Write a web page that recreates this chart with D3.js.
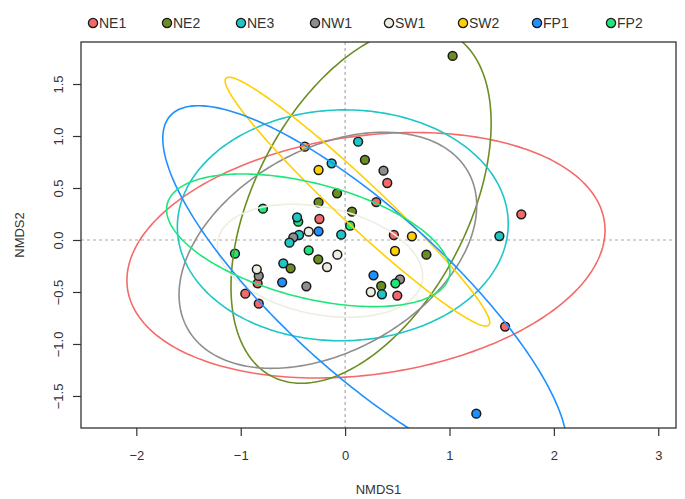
<!DOCTYPE html>
<html><head><meta charset="utf-8">
<script src="https://cdn.jsdelivr.net/npm/d3@7"></script>
<style>
html,body{margin:0;padding:0;background:#fff;}
svg{display:block;font-family:"Liberation Sans",Arial,Helvetica,sans-serif;}
</style></head>
<body>
<svg id="chart" width="685" height="499"></svg>
<script>
// ---- data ----
const groups = ["NE1","NE2","NE3","NW1","SW1","SW2","FP1","FP2"];
const groupColors = ["#F46A6A","#6B8E23","#1EC6C6","#8E8E8E","#EEEEE0","#FFD000","#1E90FF","#1FE67A"];

const pointGroup = ["NE2","NE3","SW2","NE2","NE3","NW1","SW2","NE1","NE2","NE2","NE1","NE2","FP2","NE1","FP2","NE3","NE1","FP2","SW1","FP1","NE3","NE3","NW1","NE3","NE1","SW2","NE3","FP2","FP2","SW1","SW2","NE2","NE2","SW1","NE3","NE2","NE1","NW1","SW1","FP1","NW1","NE1","NE1","FP1","NW1","FP2","NE2","SW1","NE3","NE1","NE1","FP1"];
const pointX = [1.03,0.125,-0.386,0.19,-0.129,0.368,-0.254,0.404,-0.077,-0.254,0.298,0.066,-0.787,1.688,-0.449,-0.46,-0.246,0.048,-0.349,-0.254,-0.037,-0.441,-0.496,-0.533,0.467,0.64,1.478,-1.055,-0.349,-0.074,0.478,0.779,-0.257,-0.173,-0.592,-0.522,-0.838,-0.827,-0.846,-0.603,-0.371,-0.956,-0.827,0.272,0.526,0.482,0.346,0.246,0.353,0.5,1.533,1.257];
const pointY = [1.77,0.945,0.897,0.77,0.737,0.667,0.673,0.548,0.449,0.362,0.365,0.272,0.301,0.247,0.176,0.218,0.202,0.138,0.08,0.083,0.051,0.048,0.026,-0.026,0.048,0.035,0.038,-0.131,-0.099,-0.141,-0.106,-0.141,-0.186,-0.26,-0.224,-0.272,-0.417,-0.346,-0.282,-0.407,-0.446,-0.516,-0.612,-0.34,-0.378,-0.417,-0.442,-0.5,-0.522,-0.535,-0.833,-1.67];

// ellipse parameters per group (centre, semi-axes, rotation in degrees)
const ellCx    = [0.20, 0.153, -0.022, -0.165, -0.24, 0.118, 0.19, -0.353];
const ellCy    = [-0.147, 0.336, 0.141, -0.099, -0.20, 0.369, -0.50, -0.003];
const ellA     = [2.307, 1.856, 1.585, 1.541, 0.998, 1.73, 2.52, 1.395];
const ellB     = [1.147, 1.022, 1.11, 0.973, 0.515, 0.21, 0.78, 0.55];
const ellAngle = [8, 62.6, 1, 29.3, -11.7, -43.3, -42.3, -14.6];

const xTicks = [-2,-1,0,1,2,3];
const yTicks = [-1.5,-1.0,-0.5,0.0,0.5,1.0,1.5];
const xLabel = "NMDS1", yLabel = "NMDS2";

// ---- layout ----
const svg = d3.select("#chart");
const L = 81, R = 676, T = 42, B = 428;
const x = d3.scaleLinear().domain([-2.53, 3.17]).range([L, R]);
const y = d3.scaleLinear().domain([-1.808, 1.904]).range([B, T]);
const color = d3.scaleOrdinal().domain(groups).range(groupColors);

svg.append("defs").append("clipPath").attr("id","clip")
  .append("rect").attr("x",L).attr("y",T).attr("width",R-L).attr("height",B-T);

// zero reference lines
svg.append("line").attr("x1",L).attr("x2",R).attr("y1",y(0)).attr("y2",y(0))
  .attr("stroke","#aaa").attr("stroke-width",1.2).attr("stroke-dasharray","3,3");
svg.append("line").attr("x1",x(0)).attr("x2",x(0)).attr("y1",T).attr("y2",B)
  .attr("stroke","#aaa").attr("stroke-width",1.2).attr("stroke-dasharray","3,3");

// points
svg.append("g").selectAll("circle").data(pointX.map((v,i)=>({x:v,y:pointY[i],g:pointGroup[i]})))
  .join("circle")
  .attr("cx",d=>x(d.x)).attr("cy",d=>y(d.y)).attr("r",4.4)
  .attr("fill",d=>color(d.g)).attr("stroke","#1a1a1a").attr("stroke-width",1.5);

// ellipses
const line = d3.line().x(d=>x(d[0])).y(d=>y(d[1]));
const ells = groups.map((g,i)=>{
  const th = ellAngle[i]*Math.PI/180, pts=[];
  for(let k=0;k<=240;k++){
    const t = k/240*2*Math.PI;
    const u = ellA[i]*Math.cos(t), v = ellB[i]*Math.sin(t);
    pts.push([ellCx[i] + u*Math.cos(th) - v*Math.sin(th), ellCy[i] + u*Math.sin(th) + v*Math.cos(th)]);
  }
  return {g, pts};
});
svg.append("g").attr("clip-path","url(#clip)").selectAll("path").data(ells).join("path")
  .attr("d",d=>line(d.pts)).attr("fill","none")
  .attr("stroke",d=>color(d.g)).attr("stroke-width",1.6);

// box
svg.append("rect").attr("x",L).attr("y",T).attr("width",R-L).attr("height",B-T)
  .attr("fill","none").attr("stroke","#333").attr("stroke-width",1.3);

// axes
const fmtX = d3.format("d"), fmtY = d3.format(".1f");
const gx = svg.append("g").attr("transform",`translate(0,${B})`)
  .call(d3.axisBottom(x).tickValues(xTicks).tickSize(8).tickFormat(fmtX));
gx.select(".domain").remove();
gx.selectAll("line").attr("stroke","#333").attr("stroke-width",1.2);
gx.selectAll("text").attr("y",32).attr("dy",0).attr("font-size",13).attr("fill","#333").attr("font-family","Liberation Sans, Arial, sans-serif");

const gy = svg.append("g").attr("transform",`translate(${L},0)`)
  .call(d3.axisLeft(y).tickValues(yTicks).tickSize(8).tickFormat(fmtY));
gy.select(".domain").remove();
gy.selectAll("line").attr("stroke","#333").attr("stroke-width",1.2);
gy.selectAll("text").attr("x",0).attr("y",0).attr("dy","0.35em")
  .attr("transform","translate(-23,0) rotate(-90)").attr("text-anchor","middle")
  .attr("font-size",13).attr("fill","#333").attr("font-family","Liberation Sans, Arial, sans-serif");

svg.append("text").attr("x",(L+R)/2).attr("y",494).attr("text-anchor","middle")
  .attr("font-size",13).attr("fill","#333").text(xLabel);
svg.append("text").attr("transform",`translate(24,${(T+B)/2}) rotate(-90)`).attr("text-anchor","middle")
  .attr("font-size",13).attr("fill","#333").text(yLabel);

// legend
const lx = d3.scalePoint().domain(groups).range([93, 611]);
const lg = svg.append("g").selectAll("g").data(groups).join("g")
  .attr("transform",g=>`translate(${lx(g)},23)`);
lg.append("circle").attr("r",4.6).attr("fill",g=>color(g)).attr("stroke","#1a1a1a").attr("stroke-width",1.3);
lg.append("text").attr("x",6).attr("dy","0.36em").attr("font-size",14).attr("fill","#333").text(g=>g);
</script>
</body></html>
